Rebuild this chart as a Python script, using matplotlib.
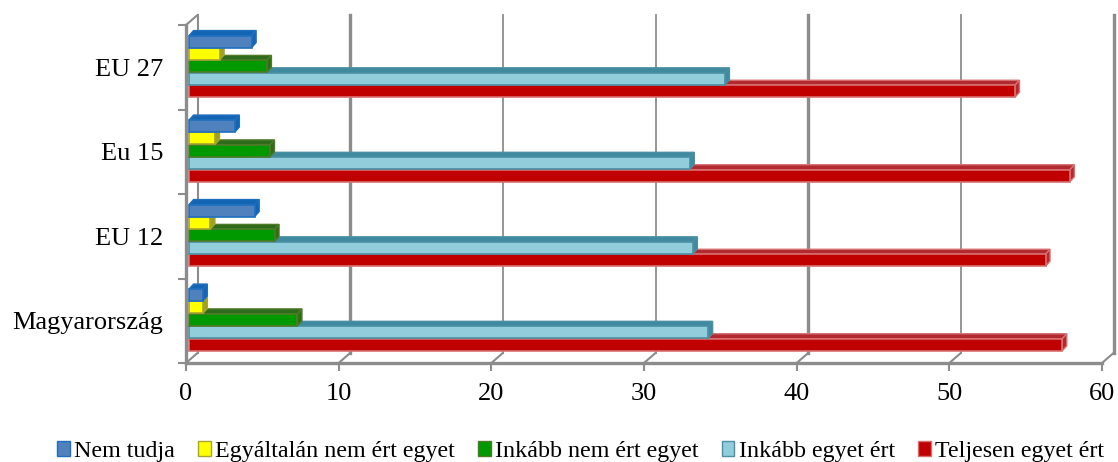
import matplotlib
matplotlib.use("Agg")
import matplotlib.pyplot as plt
from matplotlib.patches import Polygon, Rectangle

categories = ["Magyarország", "EU 12", "Eu 15", "EU 27"]
series_names = ["Nem tudja", "Egyáltalán nem ért egyet", "Inkább nem ért egyet",
                "Inkább egyet ért", "Teljesen egyet ért"]
nem_tudja = [1.1, 4.5, 3.2, 4.3]
egyaltalan = [1.1, 1.6, 1.9, 2.2]
inkabb_nem = [7.3, 5.8, 5.5, 5.3]
inkabb_egyet = [34.2, 33.2, 33.0, 35.3]
teljesen = [57.4, 56.3, 57.9, 54.3]
series = [nem_tudja, egyaltalan, inkabb_nem, inkabb_egyet, teljesen]
xticks = [0, 10, 20, 30, 40, 50, 60]

face = ["#4F81BD", "#FFFF00", "#009900", "#92CDDC", "#C00000"]
edge = ["#1F6FBF", "#A5A530", "#4F7A28", "#4A8FA3", "#D87070"]
dark = ["#1464B4", "#A0A020", "#2E6B1A", "#3F8A9E", "#B02A30"]
offs = [0.304, 0.157, 0.010, -0.137, -0.284]
grid_lw = [1.5, 2.4, 1.3, 1.3, 2.4, 1.3, 2.4]

W, H = 1118, 462
L, R, T, B = 186, 1102, 25, 363
plt.rcParams["font.family"] = ["Liberation Serif", "DejaVu Serif"]
fig = plt.figure(figsize=(W / 100, H / 100), dpi=100)
ax = fig.add_axes([L / W, 1 - B / H, (R - L) / W, (B - T) / H])
ax.set_xlim(0, 60)
ax.set_ylim(-0.5, 3.5)
ax.patch.set_visible(False)
for s in ax.spines.values():
    s.set_visible(False)

ux = 60 / (R - L)      # data per pixel
uy = 4 / (B - T)
dx, dy = 11.5 * ux, 10 * uy
grey = "#8C8C8C"

# back wall and floor
for i, x in enumerate(xticks):
    ax.plot([x + dx, x + dx], [-0.5 + dy, 3.5 + dy], color=grey,
            lw=grid_lw[i], clip_on=False, zorder=1)
    ax.plot([x, x + dx], [-0.5, -0.5 + dy], color=grey, lw=1.5, clip_on=False, zorder=1)
ax.plot([0, dx], [3.5, 3.5 + dy], color=grey, lw=1.5, clip_on=False, zorder=1)

# front axes
ax.plot([0, 60], [-0.5, -0.5], color=grey, lw=2.4, clip_on=False, zorder=6)
ax.plot([0, 0], [-0.5, 3.5], color=grey, lw=2.4, clip_on=False, zorder=6)
ax.set_xticks(xticks)
ax.set_yticks([-0.5, 0.5, 1.5, 2.5, 3.5], minor=True)
ax.set_yticks(range(4))
ax.set_yticklabels(categories)
ax.tick_params(axis="y", which="major", length=0, labelsize=19, pad=16.5)
ax.tick_params(axis="y", which="minor", length=6, width=1.5, color=grey)
ax.tick_params(axis="x", length=6, width=1.5, color=grey, labelsize=19, pad=8.5)

# 3-D looking bars, drawn bottom series first so upper ones overlap
bx, by = 4.5 * ux, 5 * uy
hb = 0.142
base = 0.2
for j in range(4, -1, -1):
    for c, v in enumerate(series[j]):
        y0 = c + offs[j] - hb / 2
        y1 = y0 + hb
        ax.add_patch(Polygon([(base, y1), (base + bx, y1 + by), (v + bx, y1 + by), (v, y1)],
                             fc=dark[j], ec=edge[j], lw=1, zorder=3 + (4 - j) * 0.1))
        ax.add_patch(Polygon([(v, y0), (v + bx, y0 + by), (v + bx, y1 + by), (v, y1)],
                             fc=dark[j], ec=edge[j], lw=1, zorder=3 + (4 - j) * 0.1))
    ax.barh([c + offs[j] for c in range(4)], [v - base for v in series[j]], height=hb, left=base,
            color=face[j], edgecolor=edge[j], linewidth=1.2, zorder=3.05 + (4 - j) * 0.1)

# legend
handles = [Rectangle((0, 0), 1, 1, fc=face[j], ec=edge[j], lw=1) for j in range(5)]
fig.legend(handles, series_names, loc="lower left", bbox_to_anchor=(57 / W, 0.0), ncol=5,
           frameon=False, fontsize=17.3, handlelength=0.54, handleheight=0.54,
           handletextpad=0.17, columnspacing=0.96, borderpad=0, borderaxespad=0)

fig.savefig("out.png", dpi=100)
